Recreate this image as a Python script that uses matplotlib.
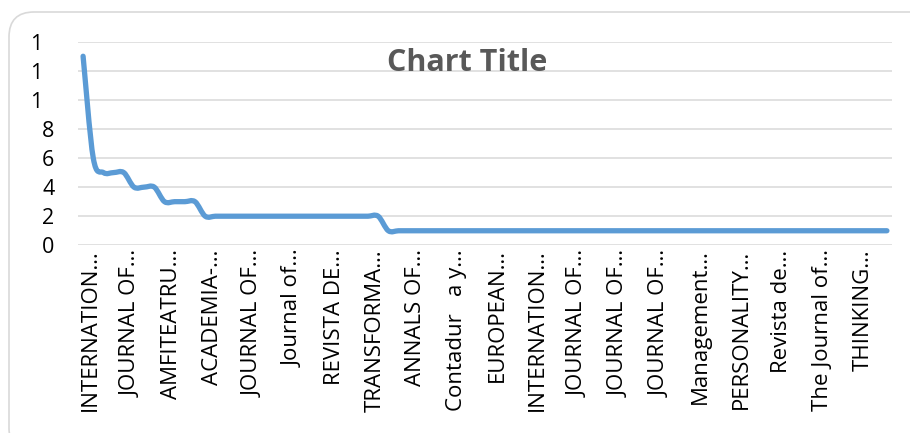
import numpy as np
import matplotlib
matplotlib.use("Agg")
import matplotlib.pyplot as plt
import matplotlib.transforms as mtransforms
from matplotlib.path import Path
from matplotlib.patches import PathPatch, FancyBboxPatch

# values per journal (80 categories, sorted descending)
values = [13, 6, 5, 5, 5, 4, 4, 4, 3, 3, 3, 3] + [2] * 18 + [1] * 50

# every 4th category gets a visible (truncated) label
labels = [
    "INTERNATION…", "JOURNAL OF…", "AMFITEATRU…", "ACADEMIA-…",
    "JOURNAL OF…", "Journal of…", "REVISTA DE…", "TRANSFORMA…",
    "ANNALS OF…", "Contadur   a y…", "EUROPEAN…", "INTERNATION…",
    "JOURNAL OF…", "JOURNAL OF…", "JOURNAL OF…", "Management…",
    "PERSONALITY…", "Revista de…", "The Journal of…", "THINKING…",
]
label_every = 4

y_ticks = [0, 2, 4, 6, 8, 10, 12, 14]
y_ticklabels = ["0", "2", "4", "6", "8", "1", "1", "1"]  # truncated like the original

plt.rcParams["font.family"] = ["Open Sans", "DejaVu Sans"]

W, H = 910, 433
fig = plt.figure(figsize=(W / 100, H / 100), dpi=100)
ax = fig.add_axes([78 / W, 1 - 245.3 / H, (892 - 78) / W, (245.3 - 41.7) / H])

x = np.arange(len(values), dtype=float)
y = np.asarray(values, dtype=float)


def smooth_path(xs, ys):
    # Catmull-Rom spline as cubic Bezier segments (like Excel's smoothed line)
    pts = np.column_stack([xs, ys])
    ext = np.vstack([pts[0], pts, pts[-1]])
    verts = [pts[0]]
    codes = [Path.MOVETO]
    for i in range(1, len(ext) - 2):
        p0, p1, p2, p3 = ext[i - 1], ext[i], ext[i + 1], ext[i + 2]
        verts += [p1 + (p2 - p0) / 6, p2 - (p3 - p1) / 6, p2]
        codes += [Path.CURVE4] * 3
    return Path(verts, codes)


ax.add_patch(PathPatch(smooth_path(x, y), fc="none", ec="#5B9BD5", lw=3.8,
                       capstyle="round", joinstyle="round", zorder=3))

ax.set_xlim(-0.5, len(values) - 0.5)
ax.set_ylim(0, 14)
ax.set_yticks(y_ticks)
ax.set_yticklabels(y_ticklabels, fontsize=15.5, color="#000000")
ax.yaxis.grid(True, color="#D9D9D9", lw=1.1)
ax.set_axisbelow(True)
for s in ax.spines.values():
    s.set_visible(False)
ax.tick_params(axis="y", length=0, pad=17)

tick_pos = np.arange(0, len(values), label_every)
ax.set_xticks(tick_pos)
ax.set_xticklabels(labels, rotation=90, fontsize=16, color="#000000")
ax.tick_params(axis="x", length=0, pad=3)

# shift x labels a bit right, truncated "1x" labels one digit left
dx = mtransforms.ScaledTranslation(7 / 100, 0, fig.dpi_scale_trans)
for lab in ax.get_xticklabels():
    lab.set_transform(lab.get_transform() + dx)
shift = mtransforms.ScaledTranslation(-12 / 100, 0, fig.dpi_scale_trans)
for lab in ax.get_yticklabels()[5:]:
    lab.set_transform(lab.get_transform() + shift)

fig.text(467 / W, 1 - 63 / H, "Chart Title", ha="center", va="center",
         fontsize=22, fontweight="bold", color="#595959")

fig.patches.append(FancyBboxPatch((9, -20), 930, 441,
                                  boxstyle="round,pad=0,rounding_size=25",
                                  transform=mtransforms.IdentityTransform(),
                                  fc="none", ec="#D9D9D9", lw=1.2))

fig.savefig("out.png", dpi=100)
